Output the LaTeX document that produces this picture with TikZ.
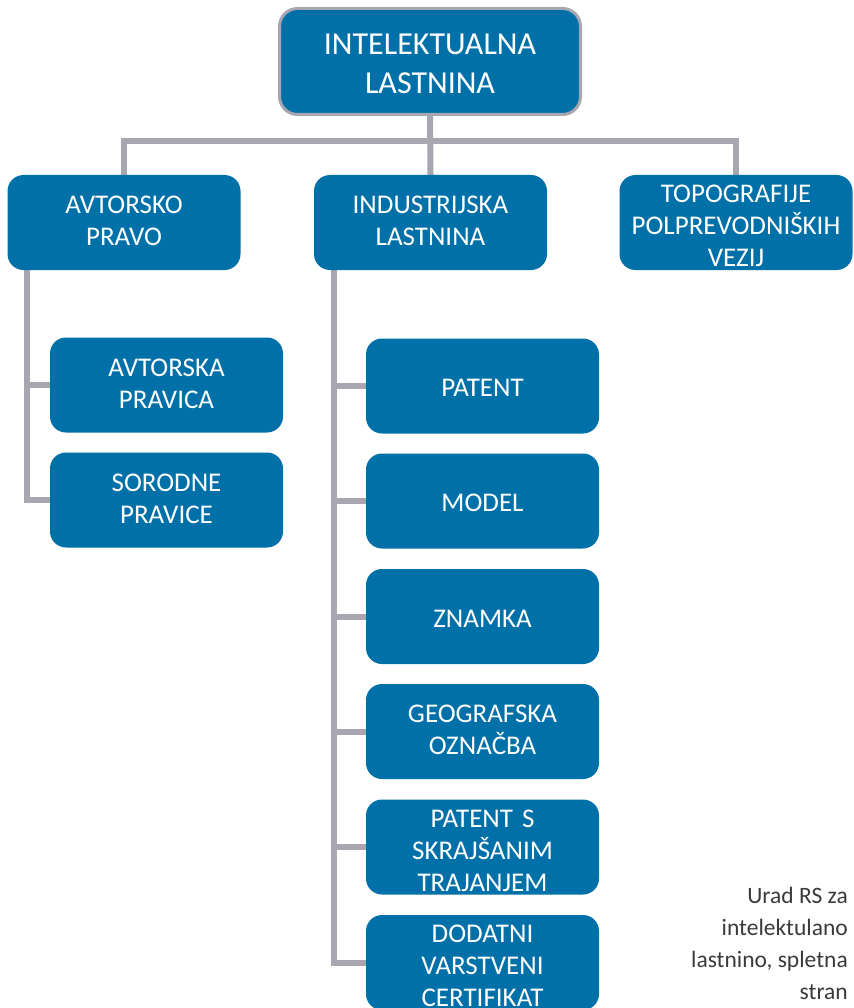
\documentclass[tikz,border=0pt]{standalone}
\usepackage{fontspec}
\setmainfont{Carlito}
\usetikzlibrary{backgrounds}
\definecolor{boxblue}{HTML}{0070A8}
\definecolor{linegray}{HTML}{A7A6B1}
\definecolor{captiongray}{HTML}{3A3A3A}

\begin{document}
\begin{tikzpicture}[x=1pt,y=-1pt,
  box/.style={rectangle, rounded corners=16pt, fill=boxblue, text=white,
    inner sep=0pt, minimum width=233pt, minimum height=95pt,
    text width=228pt, align=center, font=\fontsize{27}{32}\selectfont,
    text height=14.5pt},
  oneline/.style={text height=21.5pt},
  threeline/.style={text height=25pt},
  rootbox/.style={box, draw=linegray, line width=3pt, rounded corners=18pt,
    minimum width=301pt, minimum height=106pt, text width=290pt,
    font=\fontsize{32}{39}\selectfont, text height=25.5pt},
  conn/.style={draw=linegray, line width=6pt},
  caption/.style={inner sep=0pt, align=right, text=captiongray,
    font=\fontsize{23.5}{32}\selectfont}]

\useasboundingbox (0,0) rectangle (853,1008);

% root
\node[rootbox] (root) at (430,61.5) {INTELEKTUALNA\\LASTNINA};

% second level
\node[box] (avt)  at (124,222.5)   {AVTORSKO\\PRAVO};
\node[box] (ind)  at (430.5,222.5) {INDUSTRIJSKA\\LASTNINA};
\node[box, threeline] (topo) at (736,222.5) {TOPOGRAFIJE\\POLPREVODNIŠKIH\\VEZIJ};

% copyright branch
\node[box] (apr) at (166.5,385) {AVTORSKA\\PRAVICA};
\node[box] (sor) at (166.5,500) {SORODNE\\PRAVICE};

% industrial property branch
\node[box, oneline]   (pat) at (482.5,386)   {PATENT};
\node[box, oneline]   (mod) at (482.5,501)   {MODEL};
\node[box, oneline]   (zna) at (482.5,616.5) {ZNAMKA};
\node[box]            (geo) at (482.5,731.5) {GEOGRAFSKA\\OZNAČBA};
\node[box, threeline] (pss) at (482.5,847)   {PATENT S\\SKRAJŠANIM\\TRAJANJEM};
\node[box, threeline] (dod) at (482.5,962.5) {DODATNI\\VARSTVENI\\CERTIFIKAT};

% source note
\node[caption, anchor=north east] (src) at (848,887)
  {Urad RS za\\intelektulano\\lastnino, spletna\\stran};

% connectors behind the boxes
\coordinate (bus) at (0,141);
\coordinate (spineL) at (27,0);
\coordinate (spineR) at (334,0);
\begin{scope}[on background layer]
  \draw[conn] (avt.north) -- (avt.north |- bus) -| (topo.north);
  \draw[conn] (root.south) -- (ind.north);
  \draw[conn] (avt.south -| spineL) -- (spineL |- sor.west) -- (sor.west);
  \draw[conn] (spineL |- apr.west) -- (apr.west);
  \draw[conn] (ind.south -| spineR) -- (spineR |- dod.west) -- (dod.west);
  \foreach \n in {pat,mod,zna,geo,pss}
    \draw[conn] (spineR |- \n.west) -- (\n.west);
\end{scope}
\end{tikzpicture}
\end{document}
